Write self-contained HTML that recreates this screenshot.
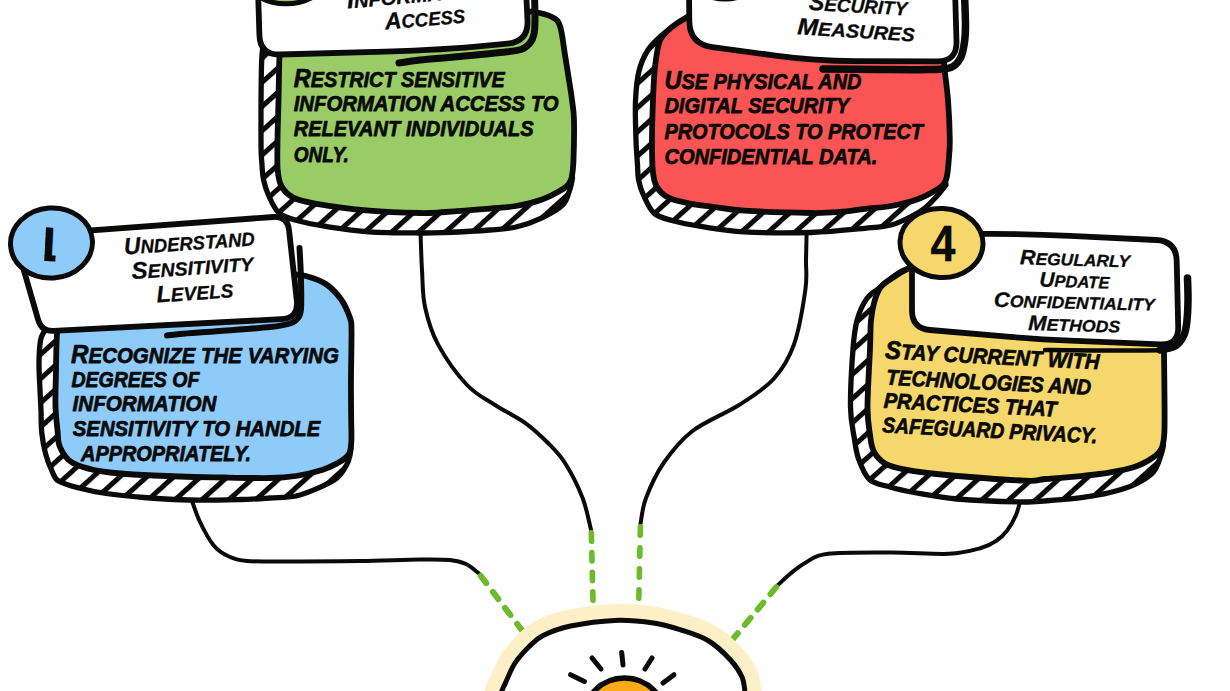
<!DOCTYPE html>
<html lang="en">
<head>
<meta charset="utf-8">
<title>Confidentiality steps</title>
<style>
html,body{margin:0;padding:0;background:#fff;}
body{width:1230px;height:691px;overflow:hidden;}
svg{display:block;}
</style>
</head>
<body>
<svg width="1230" height="691" viewBox="0 0 1230 691">
<defs>
<pattern id="hatch" width="18" height="18" patternUnits="userSpaceOnUse" patternTransform="rotate(-42)">
<rect width="18" height="18" fill="#fff"/>
<rect y="0" width="18" height="5.1" fill="#0a0a0a"/>
</pattern>
<clipPath id="one"><rect x="45.2" y="220" width="11" height="44"/></clipPath>
</defs>
<rect width="1230" height="691" fill="#fff"/>
<path d="M191.0 498.0 C192.5 502.0 196.2 514.1 200.0 522.0 C203.8 529.9 209.0 539.7 213.7 545.4 C218.4 551.1 222.4 553.4 228.0 556.0 C233.6 558.6 235.0 560.1 247.0 561.0 C259.0 561.9 281.2 561.5 300.0 561.5 C318.8 561.5 340.0 561.3 360.0 561.0 C380.0 560.7 405.0 559.7 420.0 559.5 C435.0 559.3 442.3 559.2 450.0 560.0 C457.7 560.8 461.2 561.8 466.0 564.0 C470.8 566.2 476.8 571.9 479.0 573.5" fill="none" stroke="#0a0a0a" stroke-width="4" stroke-linecap="round"/>
<path d="M480.8 576.0 L522.2 630.6" fill="none" stroke="#6dbb2b" stroke-width="6" stroke-linecap="round" stroke-dasharray="9 11"/>
<path d="M420.5 232.0 C420.8 238.3 421.2 257.5 422.0 270.0 C422.8 282.5 422.3 294.6 425.0 307.0 C427.7 319.4 431.0 331.4 438.0 344.4 C445.0 357.4 457.5 374.9 467.0 385.0 C476.5 395.1 485.4 398.7 495.0 405.0 C504.6 411.3 515.9 416.3 524.7 422.6 C533.5 428.9 541.3 436.3 548.0 443.0 C554.7 449.7 559.2 453.8 565.0 463.0 C570.8 472.2 578.3 486.9 582.6 498.0 C586.9 509.1 589.6 524.4 591.0 529.7" fill="none" stroke="#0a0a0a" stroke-width="4" stroke-linecap="round"/>
<path d="M591.3 532.8 L593.0 600.4" fill="none" stroke="#6dbb2b" stroke-width="5.6" stroke-linecap="round" stroke-dasharray="8.4 11.3"/>
<path d="M806.6 232.0 C806.5 236.7 806.2 250.4 806.0 260.0 C805.8 269.6 807.4 275.4 805.4 289.5 C803.4 303.6 799.3 329.5 794.0 344.4 C788.7 359.3 782.8 368.9 773.6 379.0 C764.4 389.1 752.5 396.3 739.0 405.0 C725.5 413.7 705.1 421.3 692.5 431.0 C679.9 440.7 671.4 451.8 663.6 463.0 C655.9 474.2 649.9 487.8 646.0 498.0 C642.1 508.2 641.4 519.7 640.5 524.0" fill="none" stroke="#0a0a0a" stroke-width="4" stroke-linecap="round"/>
<path d="M640.4 526.8 L638.8 598.3" fill="none" stroke="#6dbb2b" stroke-width="5.6" stroke-linecap="round" stroke-dasharray="8.4 12.6"/>
<path d="M1021.0 498.0 C1020.2 500.8 1018.3 509.6 1016.0 515.0 C1013.7 520.5 1010.3 526.4 1007.0 530.7 C1003.7 535.0 1000.3 538.1 996.0 541.0 C991.7 543.9 988.8 545.9 981.0 548.0 C973.2 550.1 963.8 553.0 949.0 553.8 C934.2 554.5 912.2 552.5 892.0 552.5 C871.8 552.5 842.4 552.1 828.0 553.8 C813.6 555.5 811.8 559.3 805.5 562.7 C799.2 566.1 794.6 570.3 790.0 574.0 C785.4 577.7 780.0 583.2 778.0 585.0" fill="none" stroke="#0a0a0a" stroke-width="4" stroke-linecap="round"/>
<path d="M776.2 587.2 L732.0 640.2" fill="none" stroke="#6dbb2b" stroke-width="6" stroke-linecap="round" stroke-dasharray="9 11"/>
<path d="M500.0 701.0 C500.2 699.5 500.6 695.1 501.5 692.0 C502.4 688.9 503.4 687.4 505.6 682.6 C507.9 677.8 511.1 669.0 515.0 663.0 C518.9 657.0 524.3 651.3 529.0 646.7 C533.7 642.1 536.1 639.1 543.0 635.6 C549.9 632.1 558.6 628.5 570.6 626.0 C582.6 623.5 601.0 620.9 614.8 620.4 C628.6 619.9 642.5 621.4 653.5 623.0 C664.5 624.6 671.8 627.0 681.0 630.0 C690.2 633.0 700.5 635.9 708.8 641.0 C717.1 646.1 725.5 654.5 731.0 660.5 C736.5 666.5 739.7 671.8 742.0 677.0 C744.3 682.2 744.3 688.0 745.0 692.0 C745.7 696.0 745.8 699.5 746.0 701.0" fill="none" stroke="#fdf0c6" stroke-width="33" stroke-linejoin="round"/>
<path d="M500.0 701.0 C500.2 699.5 500.6 695.1 501.5 692.0 C502.4 688.9 503.4 687.4 505.6 682.6 C507.9 677.8 511.1 669.0 515.0 663.0 C518.9 657.0 524.3 651.3 529.0 646.7 C533.7 642.1 536.1 639.1 543.0 635.6 C549.9 632.1 558.6 628.5 570.6 626.0 C582.6 623.5 601.0 620.9 614.8 620.4 C628.6 619.9 642.5 621.4 653.5 623.0 C664.5 624.6 671.8 627.0 681.0 630.0 C690.2 633.0 700.5 635.9 708.8 641.0 C717.1 646.1 725.5 654.5 731.0 660.5 C736.5 666.5 739.7 671.8 742.0 677.0 C744.3 682.2 744.3 688.0 745.0 692.0 C745.7 696.0 745.8 699.5 746.0 701.0" fill="#fff" stroke="#0a0a0a" stroke-width="5" stroke-linejoin="round"/>
<circle cx="624.5" cy="719.5" r="41.5" fill="#fbab18" stroke="#0a0a0a" stroke-width="5.5"/>
<path d="M570.6 674.7 L584.4 681.6" stroke="#0a0a0a" stroke-width="5" stroke-linecap="round"/>
<path d="M592.0 658.0 L601.0 669.0" stroke="#0a0a0a" stroke-width="5" stroke-linecap="round"/>
<path d="M621.7 652.6 L623.0 665.0" stroke="#0a0a0a" stroke-width="5" stroke-linecap="round"/>
<path d="M652.0 658.0 L645.0 669.0" stroke="#0a0a0a" stroke-width="5" stroke-linecap="round"/>
<path d="M674.0 674.7 L663.0 683.0" stroke="#0a0a0a" stroke-width="5" stroke-linecap="round"/>
<path d="M50.0 324.0 C49.0 325.3 45.6 329.2 44.0 332.0 C42.4 334.8 41.2 335.8 40.4 341.0 C39.6 346.2 39.1 354.8 39.0 363.0 C38.9 371.2 39.7 382.2 40.0 390.0 C40.3 397.8 40.7 402.8 41.0 410.0 C41.3 417.2 41.0 425.7 41.8 433.0 C42.6 440.3 43.9 447.6 45.6 453.9 C47.3 460.2 49.8 466.5 52.0 471.0 C54.2 475.5 54.1 478.2 58.6 481.0 C63.1 483.8 71.1 485.9 79.0 488.0 C86.9 490.1 95.2 491.9 106.0 493.5 C116.8 495.1 130.0 496.4 144.0 497.5 C158.0 498.6 174.0 499.7 190.0 500.0 C206.0 500.3 226.7 499.8 240.0 499.5 C253.3 499.2 260.7 498.6 270.0 498.0 C279.3 497.4 287.3 497.9 296.0 496.0 C304.7 494.1 315.0 489.5 322.0 486.4 C329.0 483.3 333.7 481.0 337.8 477.3 C341.9 473.6 344.9 468.0 346.9 464.3 C348.9 460.6 349.3 457.7 350.0 455.0 C350.7 452.3 350.8 449.2 351.0 448.0 L340.0 400.0 L200.0 310.0Z" fill="url(#hatch)" stroke="#0a0a0a" stroke-width="5.3" stroke-linejoin="round"/>
<path d="M60.0 320.0 C59.5 322.3 57.7 325.7 57.0 334.0 C56.3 342.3 56.2 357.8 56.0 370.0 C55.8 382.2 55.2 397.0 55.5 407.0 C55.8 417.0 56.8 423.4 57.5 430.0 C58.2 436.6 57.5 441.1 59.7 446.3 C61.9 451.6 65.5 457.7 70.6 461.5 C75.6 465.3 83.4 467.2 90.0 469.0 C96.6 470.8 102.8 471.6 110.0 472.5 C117.2 473.4 121.8 473.8 133.5 474.5 C145.2 475.2 164.8 476.0 180.0 476.5 C195.2 477.0 210.0 477.2 225.0 477.5 C240.0 477.8 258.2 478.2 270.0 478.0 C281.8 477.8 287.3 477.3 296.0 476.0 C304.7 474.7 315.0 472.2 322.0 470.0 C329.0 467.8 333.8 465.1 337.8 463.0 C341.8 460.9 344.0 459.3 346.0 457.5 C348.0 455.7 348.9 454.9 349.8 452.0 C350.7 449.1 351.2 445.3 351.4 440.0 C351.6 434.7 351.3 430.3 351.2 420.0 C351.1 409.7 350.9 393.0 351.0 378.0 C351.1 363.0 351.7 340.0 351.5 330.0 C351.3 320.0 351.7 323.0 350.0 318.0 C348.3 313.0 345.5 305.7 341.5 300.0 C337.5 294.3 331.8 288.0 325.8 284.0 C319.8 280.0 312.4 277.7 305.6 276.0 C298.8 274.3 288.4 274.3 285.0 274.0 L200.0 300.0Z" fill="#8ecbf8" stroke="#0a0a0a" stroke-width="5.8" stroke-linejoin="round"/>
<path d="M268.0 40.0 C267.0 42.5 263.2 38.3 262.0 55.0 C260.8 71.7 261.0 121.7 261.0 140.0 C261.0 158.3 261.6 158.3 262.0 165.0 C262.4 171.7 262.5 175.0 263.6 180.0 C264.7 185.0 265.8 189.4 268.4 195.0 C271.0 200.6 274.2 209.1 279.3 213.4 C284.4 217.7 291.0 218.8 298.8 221.0 C306.6 223.2 314.3 224.6 326.0 226.4 C337.7 228.2 353.3 230.7 369.0 231.8 C384.7 232.9 407.3 232.9 420.0 233.0 C432.7 233.1 433.3 233.0 445.0 232.5 C456.7 232.0 478.2 230.9 490.0 230.0 C501.8 229.1 507.3 229.0 516.0 227.0 C524.7 225.0 534.2 221.5 542.0 217.8 C549.8 214.1 558.3 209.5 563.0 204.7 C567.7 199.9 568.4 193.4 570.0 189.0 C571.6 184.6 572.1 179.8 572.5 178.0 L560.0 100.0 L400.0 30.0Z" fill="url(#hatch)" stroke="#0a0a0a" stroke-width="5.3" stroke-linejoin="round"/>
<path d="M281.0 40.0 C280.8 42.5 279.9 45.0 279.5 55.0 C279.1 65.0 278.8 85.8 278.5 100.0 C278.2 114.2 277.6 128.3 277.5 140.0 C277.4 151.7 277.0 162.3 277.7 170.0 C278.4 177.7 278.9 181.7 281.5 186.3 C284.1 190.9 287.8 194.8 293.4 197.7 C299.0 200.6 302.4 201.4 315.0 203.6 C327.6 205.8 351.8 209.1 369.3 210.7 C386.8 212.3 407.4 212.8 420.0 213.0 C432.6 213.2 433.3 212.7 445.0 212.0 C456.7 211.3 478.2 209.6 490.0 208.6 C501.8 207.6 507.3 207.5 516.0 206.0 C524.7 204.5 534.2 202.3 542.0 199.5 C549.8 196.7 558.5 191.7 563.0 189.0 C567.5 186.3 567.5 185.5 569.0 183.5 C570.5 181.5 571.1 180.6 571.8 177.0 C572.5 173.4 573.0 171.5 573.4 162.0 C573.8 152.5 574.2 130.3 574.0 120.0 C573.8 109.7 572.8 106.7 572.0 100.0 C571.2 93.3 570.2 87.5 569.0 80.0 C567.8 72.5 566.5 64.0 565.0 55.0 C563.5 46.0 562.2 32.3 560.0 26.0 C557.8 19.7 556.3 19.3 552.0 17.0 C547.7 14.7 540.2 13.0 534.0 12.0 C527.8 11.0 518.2 11.2 515.0 11.0 L400.0 30.0Z" fill="#99cc66" stroke="#0a0a0a" stroke-width="5.8" stroke-linejoin="round"/>
<path d="M675.0 27.0 C673.8 27.6 670.3 29.0 668.0 30.5 C665.7 32.0 664.3 32.8 661.0 36.0 C657.7 39.2 651.7 44.2 648.0 50.0 C644.3 55.8 641.1 62.5 639.0 71.0 C636.9 79.5 636.0 89.5 635.5 101.0 C635.0 112.5 635.7 129.3 636.0 140.0 C636.3 150.7 637.1 158.3 637.5 165.0 C637.9 171.7 637.6 175.0 638.6 180.0 C639.6 185.0 640.8 189.4 643.4 195.0 C646.0 200.6 649.2 209.1 654.3 213.4 C659.4 217.7 666.0 218.8 673.8 221.0 C681.6 223.2 689.3 224.6 701.0 226.4 C712.7 228.2 725.7 230.8 744.0 231.8 C762.3 232.8 790.8 233.1 811.0 232.5 C831.2 231.9 851.5 229.6 865.0 228.3 C878.5 227.0 884.2 226.8 892.0 224.7 C899.8 222.6 906.5 218.8 912.0 216.0 C917.5 213.2 920.8 211.3 925.0 208.0 C929.2 204.7 933.5 199.8 937.0 196.0 C940.5 192.2 944.5 186.8 946.0 185.0 L930.0 100.0 L800.0 30.0Z" fill="url(#hatch)" stroke="#0a0a0a" stroke-width="5.3" stroke-linejoin="round"/>
<path d="M697.0 10.0 C695.6 11.0 692.9 13.2 688.7 16.0 C684.5 18.8 676.8 22.9 672.0 27.0 C667.2 31.1 662.8 33.8 660.0 40.5 C657.2 47.2 656.2 57.1 655.0 67.0 C653.8 76.9 653.5 87.8 653.0 100.0 C652.5 112.2 652.0 128.3 652.0 140.0 C652.0 151.7 652.0 162.3 652.7 170.0 C653.5 177.7 653.9 181.7 656.5 186.3 C659.1 190.9 662.8 194.8 668.4 197.7 C674.0 200.6 682.9 202.1 690.0 203.6 C697.1 205.1 702.0 205.3 711.0 206.5 C720.0 207.7 727.3 209.6 744.0 210.7 C760.7 211.8 795.0 212.8 811.0 213.0 C827.0 213.2 831.0 212.7 840.0 212.0 C849.0 211.3 856.5 209.8 865.0 208.8 C873.5 207.8 882.3 207.6 891.0 206.0 C899.7 204.4 909.2 202.3 917.0 199.5 C924.8 196.7 933.5 191.7 938.0 189.0 C942.5 186.3 942.5 185.5 944.0 183.5 C945.5 181.5 946.0 180.6 946.8 177.0 C947.6 173.4 948.1 168.2 948.6 162.0 C949.1 155.8 949.9 150.3 949.8 140.0 C949.7 129.7 948.9 111.7 948.0 100.0 C947.1 88.3 945.5 78.3 944.7 70.0 C943.9 61.7 943.3 53.3 943.0 50.0 L800.0 30.0Z" fill="#fa5454" stroke="#0a0a0a" stroke-width="5.8" stroke-linejoin="round"/>
<path d="M925.0 262.0 C920.8 263.7 907.4 267.8 900.0 272.0 C892.6 276.2 886.3 282.5 880.8 287.0 C875.2 291.5 870.7 293.2 866.7 298.8 C862.7 304.4 859.3 312.1 857.0 320.5 C854.7 328.9 854.1 334.6 853.0 349.0 C851.9 363.4 850.3 392.2 850.5 407.0 C850.7 421.8 852.9 429.3 854.3 438.0 C855.6 446.7 856.1 452.1 858.6 459.0 C861.1 465.9 864.3 474.8 869.5 479.5 C874.7 484.2 882.6 484.8 890.0 487.0 C897.4 489.2 902.8 490.5 914.0 492.5 C925.2 494.5 938.5 497.4 957.0 499.0 C975.5 500.6 1009.5 501.8 1025.0 502.0 C1040.5 502.2 1040.3 501.3 1050.0 500.5 C1059.7 499.7 1073.2 498.6 1083.0 497.3 C1092.8 496.0 1100.3 495.0 1109.0 492.8 C1117.7 490.6 1127.6 487.8 1135.0 484.3 C1142.4 480.8 1149.1 476.9 1153.4 472.0 C1157.7 467.1 1159.3 459.5 1161.0 455.0 C1162.7 450.5 1163.1 446.7 1163.5 445.0 L1150.0 400.0 L1000.0 300.0Z" fill="url(#hatch)" stroke="#0a0a0a" stroke-width="5.3" stroke-linejoin="round"/>
<path d="M925.0 262.0 C922.4 263.0 914.8 265.5 909.6 268.0 C904.4 270.5 898.6 273.8 893.8 277.0 C889.0 280.2 884.0 282.8 880.8 287.0 C877.5 291.2 875.9 296.4 874.3 302.0 C872.7 307.6 871.7 312.7 871.0 320.5 C870.3 328.3 870.6 334.6 870.0 349.0 C869.4 363.4 867.5 392.7 867.5 407.0 C867.5 421.3 869.0 427.6 870.0 435.0 C871.0 442.4 871.3 446.6 873.8 451.3 C876.2 456.0 879.5 460.1 884.7 463.2 C890.0 466.3 895.0 467.7 905.3 469.7 C915.6 471.7 926.5 473.2 946.5 475.0 C966.5 476.8 1008.6 480.0 1025.0 480.7 C1041.4 481.4 1035.3 479.8 1045.0 479.0 C1054.7 478.2 1072.3 476.9 1083.0 475.8 C1093.7 474.7 1100.3 474.1 1109.0 472.6 C1117.7 471.1 1128.0 469.0 1135.0 466.7 C1142.0 464.4 1146.9 461.3 1150.8 459.0 C1154.7 456.7 1156.5 455.2 1158.5 453.0 C1160.5 450.8 1161.5 449.5 1162.5 446.0 C1163.5 442.5 1164.1 439.7 1164.4 432.0 C1164.7 424.3 1164.6 413.3 1164.5 400.0 C1164.4 386.7 1164.2 363.7 1164.0 352.0 C1163.8 340.3 1163.2 333.7 1163.0 330.0 L1000.0 300.0Z" fill="#f5d76b" stroke="#0a0a0a" stroke-width="5.8" stroke-linejoin="round"/>
<path d="M299.5 248.0 C299.8 253.3 300.8 269.8 301.0 280.0 C301.2 290.2 301.5 302.7 301.0 309.0 C300.5 315.3 299.8 315.6 298.0 318.0 C296.2 320.4 294.7 322.0 290.0 323.5 C285.3 325.0 281.7 325.8 270.0 327.0 C258.3 328.2 235.0 329.8 220.0 331.0 C205.0 332.2 188.8 333.2 180.0 334.0 C171.2 334.8 169.2 335.2 167.0 335.5" fill="none" stroke="#0a0a0a" stroke-width="6" stroke-linecap="round" stroke-linejoin="round"/>
<path d="M534.5 -5.0 C534.6 -0.8 535.1 13.5 535.0 20.0 C534.9 26.5 534.8 30.2 534.0 34.0 C533.2 37.8 532.2 40.4 530.0 43.0 C527.8 45.6 526.0 47.9 521.0 49.5 C516.0 51.1 510.2 51.3 500.0 52.5 C489.8 53.7 473.3 55.2 460.0 56.5 C446.7 57.8 430.2 58.9 420.0 60.0 C409.8 61.1 402.5 62.5 399.0 63.0" fill="none" stroke="#0a0a0a" stroke-width="7" stroke-linecap="round" stroke-linejoin="round"/>
<path d="M964.5 -5.0 C964.7 0.0 965.5 17.2 965.5 25.0 C965.5 32.8 965.3 36.5 964.5 42.0 C963.7 47.5 962.8 53.8 960.5 58.0 C958.2 62.2 956.1 65.6 951.0 67.5 C945.9 69.4 941.8 69.2 930.0 69.5 C918.2 69.8 897.8 69.6 880.0 69.5 C862.2 69.4 832.5 69.1 823.0 69.0" fill="none" stroke="#0a0a0a" stroke-width="7.5" stroke-linecap="round" stroke-linejoin="round"/>
<path d="M1187.5 278.0 C1187.6 281.7 1188.1 292.7 1188.0 300.0 C1187.9 307.3 1187.5 316.2 1186.8 322.0 C1186.1 327.8 1185.8 331.1 1184.0 335.0 C1182.2 338.9 1180.0 343.0 1176.0 345.5 C1172.0 348.0 1172.7 349.2 1160.0 350.0 C1147.3 350.8 1119.2 350.5 1100.0 350.5 C1080.8 350.5 1054.2 350.1 1045.0 350.0" fill="none" stroke="#0a0a0a" stroke-width="4.5" stroke-linecap="round" stroke-linejoin="round"/>
<path d="M1187.5 278.0 C1187.6 281.7 1188.1 292.7 1188.0 300.0 C1187.9 307.3 1187.5 316.2 1186.8 322.0 C1186.1 327.8 1185.8 331.1 1184.0 335.0 C1182.2 338.9 1180.0 343.0 1176.0 345.5 C1172.0 348.0 1162.7 349.2 1160.0 350.0" fill="none" stroke="#0a0a0a" stroke-width="7.5" stroke-linecap="round" stroke-linejoin="round"/>
<path d="M14.8 238.9 Q14.0 236.0 17.0 235.8 L273.4 217.0 Q287.4 216.0 289.0 229.9 L296.8 300.4 Q298.8 318.3 280.8 319.2 L53.5 330.9 Q41.5 331.5 38.2 320.0Z" fill="#fff" stroke="#0a0a0a" stroke-width="5.8" stroke-linejoin="round"/>
<path d="M259.0 -12.0 Q258.0 -12.0 258.0 -11.0 L259.4 35.0 Q260.0 55.0 280.0 54.5 L385.0 51.6 Q445.0 50.0 486.8 45.7 L507.6 43.6 Q528.5 41.4 527.5 20.4 L526.0 -11.0 Q526.0 -12.0 525.0 -12.0Z" fill="#fff" stroke="#0a0a0a" stroke-width="5.8" stroke-linejoin="round"/>
<path d="M690.0 -12.0 Q689.0 -12.0 689.0 -11.0 L689.3 21.0 Q689.5 44.0 712.3 47.1 L775.4 55.6 Q815.0 61.0 855.0 61.1 L937.0 61.4 Q957.0 61.5 956.5 41.5 L955.0 -11.0 Q955.0 -12.0 954.0 -12.0Z" fill="#fff" stroke="#0a0a0a" stroke-width="5.8" stroke-linejoin="round"/>
<path d="M912.0 238.5 Q912.0 233.5 917.0 233.5 L990.0 233.8 Q1030.0 234.0 1070.0 235.9 L1156.2 240.0 Q1176.2 241.0 1176.7 261.0 L1178.2 327.0 Q1178.6 345.0 1160.6 344.3 L1070.0 340.7 Q1040.0 339.5 1010.1 336.9 L929.9 330.0 Q912.0 328.5 912.0 310.5Z" fill="#fff" stroke="#0a0a0a" stroke-width="5.8" stroke-linejoin="round"/>
<ellipse cx="51.5" cy="243" rx="41" ry="35" fill="#8ecbf8" stroke="#0a0a0a" stroke-width="5" transform="rotate(-4 51.5 243)"/>
<ellipse cx="286" cy="-32.5" rx="46" ry="36.3" fill="#99cc66" stroke="#0a0a0a" stroke-width="5" transform="rotate(0 286 -32.5)"/>
<ellipse cx="725" cy="-36" rx="41" ry="35" fill="#fa5454" stroke="#0a0a0a" stroke-width="5" transform="rotate(0 725 -36)"/>
<ellipse cx="941.5" cy="243" rx="41.5" ry="34.5" fill="#f5d76b" stroke="#0a0a0a" stroke-width="5" transform="rotate(3 941.5 243)"/>
<g font-family="'Liberation Sans', sans-serif" font-weight="bold" font-style="italic" fill="#0a0a0a" stroke="#0a0a0a" stroke-width="0.3" stroke-linejoin="round">
<text x="47.6" y="260.5" font-size="47" text-anchor="middle" font-style="normal" stroke-width="1.4" clip-path="url(#one)" transform="rotate(3 50 243)">1</text>
<text x="286" y="-18" font-size="40" text-anchor="middle">2</text>
<text x="725" y="-22" font-size="40" text-anchor="middle">3</text>
<text x="930.5" y="261" font-size="50" textLength="25" lengthAdjust="spacingAndGlyphs" font-style="normal">4</text>
<text x="124.5" y="254.5" font-size="19.0" textLength="131.0" lengthAdjust="spacingAndGlyphs" transform="rotate(-4.00 124.5 254.5)"><tspan font-size="23.5">U</tspan>NDERSTAND</text>
<text x="132.0" y="279.0" font-size="19.0" textLength="122.0" lengthAdjust="spacingAndGlyphs" transform="rotate(-4.00 132.0 279.0)"><tspan font-size="23.5">S</tspan>ENSITIVITY</text>
<text x="157.0" y="302.5" font-size="19.0" textLength="77.0" lengthAdjust="spacingAndGlyphs" transform="rotate(-4.00 157.0 302.5)"><tspan font-size="23.5">L</tspan>EVELS</text>
<text x="347.5" y="8.5" font-size="19.0" textLength="142.0" lengthAdjust="spacingAndGlyphs" transform="rotate(-5.00 347.5 8.5)"><tspan font-size="23.5">I</tspan>NFORMATION</text>
<text x="385.5" y="29.5" font-size="19.0" textLength="80.5" lengthAdjust="spacingAndGlyphs" transform="rotate(-5.00 385.5 29.5)"><tspan font-size="23.5">A</tspan>CCESS</text>
<text x="808.4" y="9.8" font-size="19.0" textLength="98.5" lengthAdjust="spacingAndGlyphs" transform="rotate(3.30 808.4 9.8)"><tspan font-size="23.5">S</tspan>ECURITY</text>
<text x="797.0" y="34.3" font-size="19.0" textLength="117.5" lengthAdjust="spacingAndGlyphs" transform="rotate(3.50 797.0 34.3)"><tspan font-size="23.5">M</tspan>EASURES</text>
<text x="1019.8" y="264.3" font-size="16.8" textLength="110.0" lengthAdjust="spacingAndGlyphs" transform="rotate(1.50 1019.8 264.3)"><tspan font-size="21.0">R</tspan>EGULARLY</text>
<text x="1039.3" y="286.4" font-size="16.8" textLength="70.0" lengthAdjust="spacingAndGlyphs" transform="rotate(1.80 1039.3 286.4)"><tspan font-size="21.0">U</tspan>PDATE</text>
<text x="993.8" y="306.7" font-size="16.8" textLength="161.0" lengthAdjust="spacingAndGlyphs" transform="rotate(1.40 993.8 306.7)"><tspan font-size="21.0">C</tspan>ONFIDENTIALITY</text>
<text x="1028.0" y="330.0" font-size="16.8" textLength="92.0" lengthAdjust="spacingAndGlyphs" transform="rotate(1.60 1028.0 330.0)"><tspan font-size="21.0">M</tspan>ETHODS</text>
</g>
<g font-family="'Liberation Sans', sans-serif" font-weight="bold" font-style="italic" fill="#0a0a0a" stroke="#0a0a0a" stroke-width="0.75" stroke-linejoin="round">
<text x="71.0" y="362.8" font-size="21.5" textLength="268.0" lengthAdjust="spacingAndGlyphs"><tspan font-size="25.5">R</tspan>ECOGNIZE THE VARYING</text>
<text x="71.4" y="387.0" font-size="21.5" textLength="128.0" lengthAdjust="spacingAndGlyphs">DEGREES OF</text>
<text x="72.5" y="411.3" font-size="21.5" textLength="144.0" lengthAdjust="spacingAndGlyphs">INFORMATION</text>
<text x="72.8" y="436.0" font-size="21.5" textLength="247.5" lengthAdjust="spacingAndGlyphs">SENSITIVITY TO HANDLE</text>
<text x="81.0" y="460.5" font-size="21.5" textLength="170.0" lengthAdjust="spacingAndGlyphs">APPROPRIATELY.</text>
<text x="293.7" y="86.5" font-size="21.5" textLength="211.0" lengthAdjust="spacingAndGlyphs"><tspan font-size="25.5">R</tspan>ESTRICT SENSITIVE</text>
<text x="293.7" y="111.4" font-size="21.5" textLength="265.0" lengthAdjust="spacingAndGlyphs">INFORMATION ACCESS TO</text>
<text x="293.7" y="136.0" font-size="21.5" textLength="240.0" lengthAdjust="spacingAndGlyphs">RELEVANT INDIVIDUALS</text>
<text x="293.7" y="161.5" font-size="21.5" textLength="55.0" lengthAdjust="spacingAndGlyphs">ONLY.</text>
<text x="664.4" y="89.0" font-size="21.5" textLength="197.0" lengthAdjust="spacingAndGlyphs"><tspan font-size="25.5">U</tspan>SE PHYSICAL AND</text>
<text x="664.4" y="113.4" font-size="21.5" textLength="185.0" lengthAdjust="spacingAndGlyphs">DIGITAL SECURITY</text>
<text x="664.4" y="138.5" font-size="21.5" textLength="258.5" lengthAdjust="spacingAndGlyphs">PROTOCOLS TO PROTECT</text>
<text x="664.4" y="163.5" font-size="21.5" textLength="213.0" lengthAdjust="spacingAndGlyphs">CONFIDENTIAL DATA.</text>
<text x="884.8" y="358.5" font-size="21.5" textLength="214.5" lengthAdjust="spacingAndGlyphs" transform="rotate(2.90 884.8 358.5)"><tspan font-size="25.5">S</tspan>TAY CURRENT WITH</text>
<text x="886.0" y="384.6" font-size="21.5" textLength="205.0" lengthAdjust="spacingAndGlyphs" transform="rotate(2.80 886.0 384.6)">TECHNOLOGIES AND</text>
<text x="883.4" y="407.8" font-size="21.5" textLength="173.0" lengthAdjust="spacingAndGlyphs" transform="rotate(2.90 883.4 407.8)">PRACTICES THAT</text>
<text x="882.0" y="432.3" font-size="21.5" textLength="215.0" lengthAdjust="spacingAndGlyphs" transform="rotate(2.90 882.0 432.3)">SAFEGUARD PRIVACY.</text>
</g>
</svg>
</body>
</html>
